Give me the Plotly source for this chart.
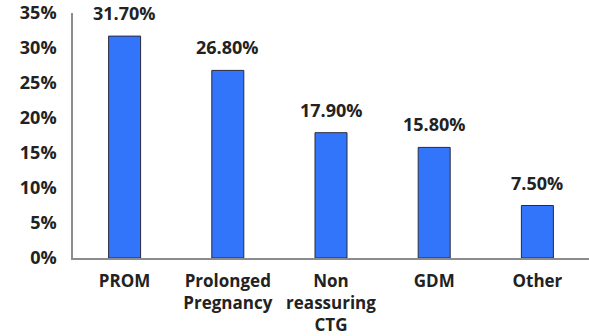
import plotly.graph_objects as go

categories = ["PROM", "Prolonged<br>Pregnancy", "Non<br>reassuring<br>CTG", "GDM", "Other"]
values = [31.7, 26.8, 17.9, 15.8, 7.5]
labels = ["31.70%", "26.80%", "17.90%", "15.80%", "7.50%"]
tick_vals = [0, 5, 10, 15, 20, 25, 30, 35]
tick_text = ["0%", "5%", "10%", "15%", "20%", "25%", "30%", "35%"]

FONT = "Open Sans"
fig = go.Figure()
fig.add_trace(go.Bar(
    x=categories, y=values,
    marker=dict(color="#3375FA", line=dict(color="#2a2a3a", width=1)),
    width=0.31,
))
for c, v, t in zip(categories, values, labels):
    fig.add_annotation(x=c, y=v, text=t, showarrow=False, yanchor="bottom",
                       yshift=9, font=dict(family=FONT, size=18, color="#222222", weight="bold"))

fig.update_layout(
    template="none",
    width=589, height=336,
    margin=dict(l=73, r=0, t=13, b=78),
    plot_bgcolor="white", paper_bgcolor="white",
    showlegend=False,
    font=dict(family=FONT, size=18, color="#222222", weight="bold"),
)
fig.update_xaxes(automargin=False, showline=True, linecolor="#8c8c8c", linewidth=1.5, showgrid=False,
                 zeroline=False, ticks="", ticklabelstandoff=7,
                 tickfont=dict(family=FONT, size=17, weight="bold"))
fig.update_yaxes(automargin=False, range=[0, 35], tickvals=tick_vals, ticktext=tick_text, showline=True,
                 linecolor="#8c8c8c", linewidth=1.5, showgrid=False, zeroline=False,
                 ticks="", ticklabelstandoff=11, tickfont=dict(family=FONT, size=18, weight="bold"))
fig.write_html("out.html")
